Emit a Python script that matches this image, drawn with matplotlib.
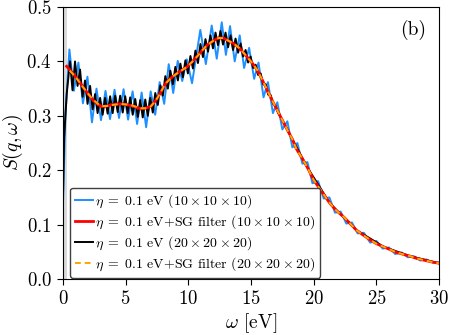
import matplotlib
matplotlib.use('Agg')
import matplotlib.pyplot as plt

plt.rcParams['font.family'] = 'serif'
plt.rcParams['font.serif'] = ['cmr10']
plt.rcParams['mathtext.fontset'] = 'cm'
plt.rcParams['axes.formatter.use_mathtext'] = True

# eta = 0.1 eV, 10x10x10 grid (raw)
w_blue = [0.0, 0.2, 0.52, 0.88, 1.24, 1.60, 1.96, 2.32, 2.68, 3.04, 3.40, 3.76,
          4.12, 4.48, 4.84, 5.20, 5.56, 5.92, 6.28, 6.64, 7.00, 7.36, 7.72, 8.08,
          8.44, 8.80, 9.16, 9.52, 9.88, 10.30, 10.96, 11.40, 11.87, 12.27, 12.67,
          13.00, 13.33, 13.70, 14.10, 14.45, 14.85, 15.25, 15.60, 16.00, 16.35,
          16.75, 17.10, 17.50, 17.90, 18.30, 18.70, 19.10, 19.50, 19.90, 20.35,
          20.80, 21.25, 21.70, 22.15, 22.60, 23.05, 23.50, 24.00, 24.50, 25.00,
          25.50, 26.00, 26.50, 27.00, 27.50, 28.00, 28.50, 29.00, 29.50, 30.00]
s_blue = [0.130, 0.300, 0.422, 0.346, 0.398, 0.323, 0.372, 0.288, 0.350, 0.292,
          0.346, 0.294, 0.348, 0.296, 0.349, 0.293, 0.345, 0.285, 0.343, 0.279,
          0.345, 0.302, 0.362, 0.322, 0.395, 0.342, 0.401, 0.364, 0.404, 0.360,
          0.458, 0.395, 0.466, 0.405, 0.472, 0.412, 0.465, 0.400, 0.448, 0.388,
          0.425, 0.368, 0.398, 0.334, 0.362, 0.305, 0.325, 0.275, 0.290, 0.242,
          0.250, 0.212, 0.215, 0.176, 0.180, 0.148, 0.150, 0.122, 0.124, 0.102,
          0.104, 0.084, 0.085, 0.067, 0.070, 0.056, 0.058, 0.046, 0.049, 0.040,
          0.042, 0.034, 0.036, 0.030, 0.031]

# eta = 0.1 eV + SG filter, 10x10x10
w_red = [0.3, 0.8, 1.2, 1.6, 2.0, 2.4, 2.8, 3.1, 3.5, 4.0, 4.6, 5.0, 5.4, 5.8,
         6.2, 6.6, 7.0, 7.4, 7.75, 8.0, 8.3, 8.7, 9.1, 9.5, 9.9, 10.3, 10.7,
         11.1, 11.5, 12.0, 12.4, 12.8, 13.2, 13.6, 14.1, 14.7, 15.1, 15.5, 15.9,
         16.3, 16.7, 17.1, 17.5, 17.9, 18.3, 18.6, 19.0, 19.5, 20.0, 20.6, 21.3,
         21.8, 22.4, 22.9, 23.4, 24.0, 24.5, 25.0, 25.6, 26.1, 26.6, 27.2, 27.7,
         28.2, 28.75, 29.3, 30.0]
s_red = [0.391, 0.378, 0.366, 0.353, 0.341, 0.329, 0.321, 0.317, 0.318, 0.321,
         0.322, 0.321, 0.319, 0.316, 0.313, 0.314, 0.317, 0.328, 0.341, 0.352,
         0.363, 0.371, 0.378, 0.384, 0.390, 0.399, 0.409, 0.420, 0.430, 0.438,
         0.443, 0.443, 0.438, 0.433, 0.424, 0.408, 0.397, 0.384, 0.366, 0.347,
         0.328, 0.310, 0.292, 0.274, 0.257, 0.240, 0.225, 0.205, 0.182, 0.162,
         0.139, 0.126, 0.114, 0.102, 0.090, 0.080, 0.072, 0.065, 0.059, 0.054,
         0.049, 0.045, 0.042, 0.038, 0.035, 0.032, 0.029]

# eta = 0.1 eV, 20x20x20 grid (raw)
w_black = [0.0, 0.1, 0.31, 0.57, 0.77, 0.97, 1.17, 1.37, 1.57, 1.77, 1.97, 2.17,
           2.37, 2.57, 2.77, 2.97, 3.17, 3.37, 3.57, 3.77, 3.97, 4.17, 4.37, 4.57,
           4.77, 4.97, 5.17, 5.37, 5.57, 5.77, 5.97, 6.17, 6.37, 6.57, 6.77, 6.97,
           7.17, 7.37, 7.57, 7.77, 7.97, 8.17, 8.37, 8.57, 8.77, 8.97, 9.17, 9.37,
           9.57, 9.77, 9.97, 10.17, 10.37, 10.57, 10.77, 10.97, 11.17, 11.37,
           11.57, 11.77, 11.97, 12.17, 12.37, 12.57, 12.77, 12.97, 13.17, 13.37,
           13.57, 13.77, 13.97, 14.17, 14.37, 14.57, 14.77, 14.97, 15.17, 15.37,
           15.57, 15.77, 15.97, 16.17, 16.37, 16.57, 16.77, 16.97, 17.17, 17.5,
           18.3, 19.5, 21.3, 23.4, 25.6, 27.7, 30.0]
s_black = [0.140, 0.260, 0.341, 0.400, 0.347, 0.400, 0.355, 0.385, 0.335, 0.365,
           0.322, 0.355, 0.312, 0.340, 0.305, 0.333, 0.302, 0.333, 0.304, 0.336,
           0.305, 0.337, 0.307, 0.337, 0.306, 0.336, 0.305, 0.334, 0.302, 0.331,
           0.298, 0.329, 0.297, 0.330, 0.300, 0.333, 0.306, 0.342, 0.320, 0.356,
           0.337, 0.373, 0.350, 0.383, 0.358, 0.390, 0.365, 0.396, 0.371, 0.402,
           0.378, 0.410, 0.387, 0.420, 0.397, 0.432, 0.408, 0.441, 0.418, 0.448,
           0.424, 0.453, 0.430, 0.456, 0.431, 0.453, 0.426, 0.448, 0.421, 0.442,
           0.416, 0.433, 0.409, 0.421, 0.398, 0.409, 0.388, 0.394, 0.375, 0.378,
           0.358, 0.358, 0.339, 0.338, 0.322, 0.318, 0.305, 0.292, 0.257, 0.205,
           0.139, 0.090, 0.059, 0.042, 0.029]

# eta = 0.1 eV + SG filter, 20x20x20
w_orange = [0.55, 1.0, 1.6, 2.0, 2.4, 2.8, 3.1, 3.5, 4.0, 4.6, 5.0, 5.4, 5.8,
            6.2, 6.6, 7.0, 7.4, 7.75, 8.0, 8.3, 8.7, 9.1, 9.5, 9.9, 10.3, 10.7,
            11.1, 11.5, 12.0, 12.4, 12.8, 13.2, 13.6, 14.1, 14.7, 15.1, 15.5, 15.9,
            16.3, 16.7, 17.1, 17.5, 17.9, 18.3, 18.6, 19.0, 19.5, 20.0, 20.6, 21.3,
            21.8, 22.4, 22.9, 23.4, 24.0, 24.5, 25.0, 25.6, 26.1, 26.6, 27.2, 27.7,
            28.2, 28.75, 29.3, 30.0]
s_orange = [0.383, 0.372, 0.353, 0.341, 0.330, 0.322, 0.318, 0.318, 0.320,
            0.322, 0.321, 0.320, 0.317, 0.314, 0.314, 0.317, 0.328, 0.341, 0.352,
            0.362, 0.371, 0.378, 0.384, 0.390, 0.399, 0.409, 0.420, 0.430, 0.438,
            0.443, 0.443, 0.438, 0.433, 0.424, 0.408, 0.397, 0.384, 0.366, 0.347,
            0.328, 0.310, 0.292, 0.274, 0.257, 0.240, 0.225, 0.205, 0.182, 0.162,
            0.139, 0.126, 0.114, 0.102, 0.090, 0.080, 0.072, 0.065, 0.059, 0.054,
            0.049, 0.045, 0.042, 0.038, 0.035, 0.032, 0.029]

labels = [r'$\eta\;=\;0.1$ eV ($10\times10\times10$)',
          r'$\eta\;=\;0.1$ eV+SG filter ($10\times10\times10$)',
          r'$\eta\;=\;0.1$ eV ($20\times20\times20$)',
          r'$\eta\;=\;0.1$ eV+SG filter ($20\times20\times20$)']

fig = plt.figure(figsize=(4.49, 3.35), dpi=100)
ax = fig.add_axes([0.14, 0.167, 0.838, 0.812])

ax.axvspan(0, 0.35, color='0.85', lw=0)
l1, = ax.plot(w_blue, s_blue, color='#1e90ff', lw=1.4, label=labels[0])
l3, = ax.plot(w_black, s_black, color='k', lw=1.4, label=labels[2])
l2, = ax.plot(w_red, s_red, color='red', lw=2.0, label=labels[1])
l4, = ax.plot(w_orange, s_orange, color='orange', lw=1.4, ls='--',
              dashes=(3, 2), label=labels[3])

ax.set_xlim(0, 30)
ax.set_ylim(0, 0.5)
ax.set_xticks([0, 5, 10, 15, 20, 25, 30])
ax.set_yticks([0.0, 0.1, 0.2, 0.3, 0.4, 0.5])
ax.tick_params(labelsize=13.5, direction='out', length=4.5)
ax.set_xlabel(r'$\omega$ [eV]', fontsize=14, labelpad=2)
ax.set_ylabel(r'$S(q,\omega)$', fontsize=14, labelpad=1)

ax.text(0.93, 0.915, '(b)', transform=ax.transAxes, fontsize=14,
        ha='center', va='center')

leg = ax.legend(handles=[l1, l2, l3, l4], loc='lower left',
                bbox_to_anchor=(0.02, 0.005), borderaxespad=0, fontsize=10,
                handlelength=1.3, handletextpad=0.15, labelspacing=0.22,
                borderpad=0.35, fancybox=True, framealpha=1)
leg.get_frame().set_edgecolor('0.25')

fig.savefig('out.png', dpi=100)
